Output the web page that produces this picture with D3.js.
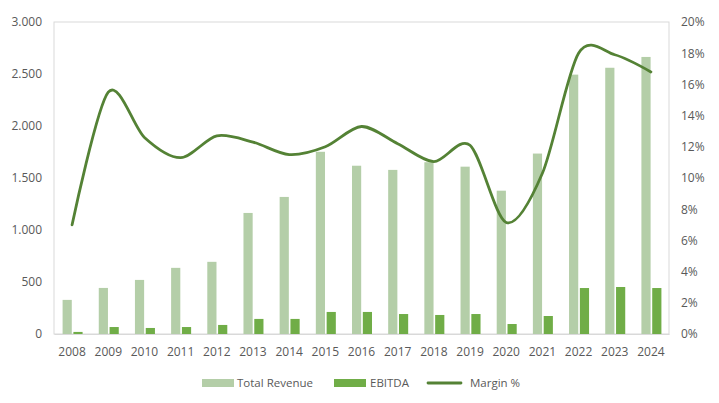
<!DOCTYPE html>
<html lang="en">
<head>
<meta charset="UTF-8">
<title>Revenue, EBITDA and Margin</title>
<script src="https://d3js.org/d3.v7.min.js"></script>
<style>
  body { margin: 0; background: #fff; }
  text { font-family: "Open Sans", "Noto Sans", sans-serif; }
</style>
</head>
<body>
<svg id="chart"></svg>
<script>
const years = ["2008","2009","2010","2011","2012","2013","2014","2015","2016","2017","2018","2019","2020","2021","2022","2023","2024"];
const revenue = [328, 443, 520, 636, 694, 1164, 1318, 1752, 1618, 1578, 1652, 1609, 1378, 1735, 2494, 2560, 2664];
const ebitda = [20, 67, 58, 67, 87, 145, 145, 212, 212, 192, 183, 192, 96, 173, 442, 452, 442];
const margin = [7.0, 15.5, 12.6, 11.3, 12.7, 12.3, 11.5, 12.0, 13.3, 12.2, 11.05, 12.1, 7.15, 10.3, 18.0, 17.9, 16.8];
const leftTicks = [0, 500, 1000, 1500, 2000, 2500, 3000];
const rightTicks = [0, 2, 4, 6, 8, 10, 12, 14, 16, 18, 20];

const width = 719, height = 403;
const m = { top: 22, right: 50, bottom: 69, left: 54 };

const svg = d3.select("#chart").attr("width", width).attr("height", height);

const x = d3.scaleBand().domain(years).range([m.left, width - m.right]);
const inner = d3.scaleBand().domain(["rev", "ebitda"]).range([-9.5, 10.5]).paddingInner(0.15);
const yL = d3.scaleLinear().domain([0, 3000]).range([height - m.bottom, m.top]);
const yR = d3.scaleLinear().domain([0, 20]).range([height - m.bottom, m.top]);

// plot area frame
svg.append("rect")
    .attr("x", m.left).attr("y", m.top)
    .attr("width", width - m.left - m.right).attr("height", height - m.top - m.bottom)
    .attr("fill", "none").attr("stroke", "#d9d9d9").attr("stroke-width", 1);

const cx = d => x(d) + x.bandwidth() / 2;

svg.append("g").selectAll("rect")
    .data(years)
    .join("rect")
    .attr("x", (d) => cx(d) + inner("rev"))
    .attr("width", inner.bandwidth())
    .attr("y", (d, i) => yL(revenue[i]))
    .attr("height", (d, i) => yL(0) - yL(revenue[i]))
    .attr("fill", "#b4cea8");

svg.append("g").selectAll("rect")
    .data(years)
    .join("rect")
    .attr("x", (d) => cx(d) + inner("ebitda"))
    .attr("width", inner.bandwidth())
    .attr("y", (d, i) => yL(ebitda[i]))
    .attr("height", (d, i) => yL(0) - yL(ebitda[i]))
    .attr("fill", "#70ad47");

const line = d3.line()
    .x((d, i) => cx(years[i]))
    .y(d => yR(d))
    .curve(d3.curveCardinal.tension(0.1));

svg.append("path")
    .datum(margin)
    .attr("fill", "none")
    .attr("stroke", "#548235")
    .attr("stroke-width", 2.8)
    .attr("stroke-linecap", "round")
    .attr("d", line);

// axes
const axL = svg.append("g")
    .attr("transform", `translate(${m.left},0)`)
    .call(d3.axisLeft(yL).tickValues(leftTicks).tickSize(0).tickPadding(12)
        .tickFormat(d => d3.format(",")(d).replace(/,/g, ".")));
axL.select(".domain").remove();

const axR = svg.append("g")
    .attr("transform", `translate(${width - m.right},0)`)
    .call(d3.axisRight(yR).tickValues(rightTicks).tickSize(0).tickPadding(12)
        .tickFormat(d => d + "%"));
axR.select(".domain").remove();

const axB = svg.append("g")
    .attr("transform", `translate(0,${height - m.bottom})`)
    .call(d3.axisBottom(x).tickSize(0).tickPadding(13));
axB.select(".domain").attr("stroke", "#d9d9d9");

svg.selectAll(".tick text")
    .attr("fill", "#595959")
    .style("font-size", "12px");

// legend
const lg = svg.append("g").attr("transform", "translate(0,383)");
lg.append("rect").attr("x", 202).attr("y", -4).attr("width", 32).attr("height", 8).attr("fill", "#b4cea8");
lg.append("text").attr("x", 237).attr("y", 4).text("Total Revenue");
lg.append("rect").attr("x", 334).attr("y", -4).attr("width", 32).attr("height", 8).attr("fill", "#70ad47");
lg.append("text").attr("x", 370).attr("y", 4).text("EBITDA");
lg.append("line").attr("x1", 428).attr("x2", 461).attr("y1", 0).attr("y2", 0)
    .attr("stroke", "#548235").attr("stroke-width", 2.8).attr("stroke-linecap", "round");
lg.append("text").attr("x", 470).attr("y", 4).text("Margin %");
lg.selectAll("text").attr("fill", "#595959").style("font-size", "11.5px");
</script>
</body>
</html>
